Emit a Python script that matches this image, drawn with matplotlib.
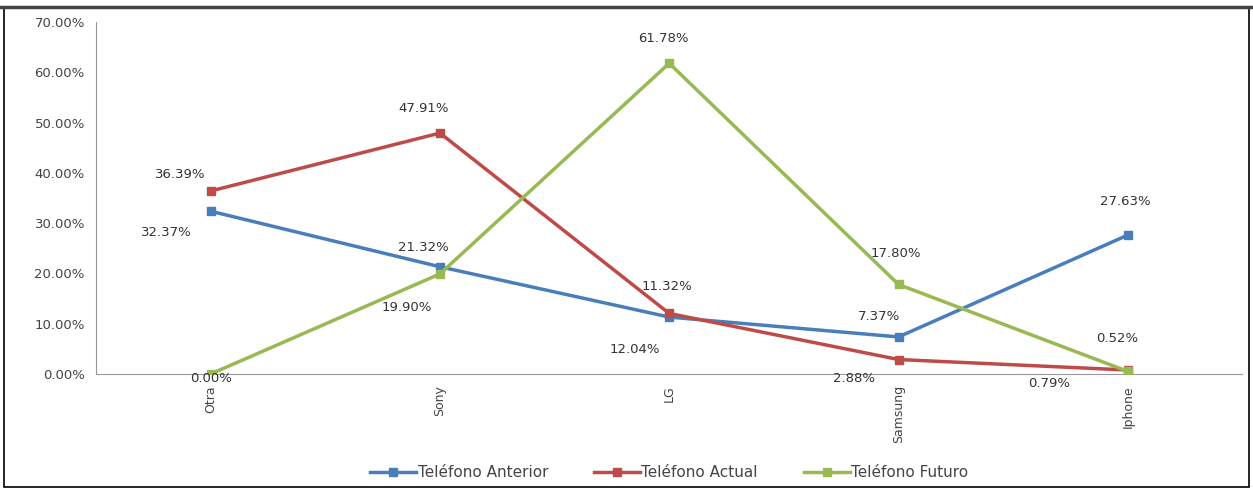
import matplotlib.pyplot as plt
import matplotlib.patches as patches
import numpy as np

marcas = ["Otra", "Sony", "LG", "Samsung", "Iphone"]
anterior = [32.37, 21.32, 11.32, 7.37, 27.63]
actual = [36.39, 47.91, 12.04, 2.88, 0.79]
futuro = [0.00, 19.90, 61.78, 17.80, 0.52]

series = ["Teléfono Anterior", "Teléfono Actual", "Teléfono Futuro"]
colores = ["#4A7EBB", "#BE4B48", "#98B954"]

# offsets (in points) for the data labels of each series
off_anterior = [(-32, -15), (-12, 14), (-2, 22), (-14, 15), (-2, 24)]
off_actual = [(-22, 12), (-12, 18), (-25, -26), (-32, -14), (-57, -10)]
off_futuro = [(0, -3), (-24, -24), (-4, 18), (-2, 22), (-8, 24)]

fig = plt.figure(figsize=(12.53, 4.88), dpi=100)
ax = fig.add_axes([0.0766, 0.2336, 0.915, 0.7214])

x = np.arange(len(marcas))
datos = [anterior, actual, futuro]
offs = [off_anterior, off_actual, off_futuro]
for vals, nombre, col in zip(datos, series, colores):
    ax.plot(x, vals, color=col, lw=2.5, marker="s", ms=6, label=nombre, zorder=3)
for vals, off in zip(datos, offs):
    for xi, v, o in zip(x, vals, off):
        ax.annotate(f"{v:.2f}%", (xi, v), xytext=o, textcoords="offset points",
                    ha="center", va="center", fontsize=9.5, color="#333333", zorder=4)

ax.set_xlim(-0.5, len(marcas) - 0.5)
ax.set_ylim(0, 70)
ax.set_yticks(np.arange(0, 71, 10))
ax.set_yticklabels([f"{t:.2f}%" for t in np.arange(0, 71, 10)], fontsize=9.5)
ax.set_xticks(x)
ax.set_xticklabels(marcas, rotation=90, fontsize=9)
ax.tick_params(axis="both", length=0, pad=8, labelcolor="#444444")
for s in ["top", "right"]:
    ax.spines[s].set_visible(False)
for s in ["left", "bottom"]:
    ax.spines[s].set_color("#999999")

ax.legend(loc="center", bbox_to_anchor=(0.5, -0.28), ncol=3, frameon=False,
          fontsize=11, handlelength=3, columnspacing=3, handletextpad=0.1,
          labelcolor="#444444")

borde = patches.Rectangle((0.003, 0.002), 0.994, 0.983, transform=fig.transFigure,
                          fill=False, edgecolor="black", lw=1.2)
fig.patches.append(borde)
fig.add_artist(plt.Line2D([0, 1], [0.986, 0.986], transform=fig.transFigure, color="#444444", lw=2.5))

fig.savefig("out.png", dpi=100)
